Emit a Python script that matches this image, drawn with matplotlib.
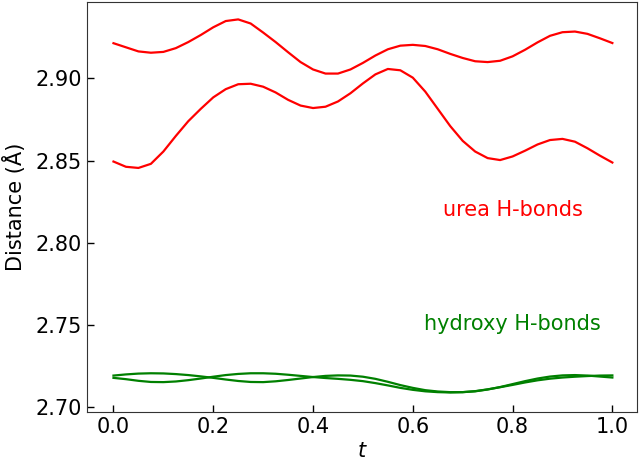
import numpy as np
import matplotlib
matplotlib.use("Agg")
import matplotlib.pyplot as plt

# path coordinate, sampled every 0.025
t = np.arange(41) * 0.025

urea_1 = [2.9215, 2.9190, 2.9165, 2.9157, 2.9162, 2.9185, 2.9222, 2.9265, 2.9312, 2.9350,
          2.9360, 2.9335, 2.9280, 2.9222, 2.9160, 2.9100, 2.9055, 2.9030, 2.9030, 2.9055,
          2.9095, 2.9140, 2.9178, 2.9200, 2.9205, 2.9198, 2.9178, 2.9150, 2.9125, 2.9105,
          2.9100, 2.9108, 2.9135, 2.9175, 2.9220, 2.9260, 2.9282, 2.9286, 2.9272, 2.9245,
          2.9216]
urea_2 = [2.8494, 2.8462, 2.8455, 2.8480, 2.8555, 2.8650, 2.8740, 2.8815, 2.8885, 2.8935,
          2.8965, 2.8968, 2.8950, 2.8915, 2.8870, 2.8835, 2.8820, 2.8828, 2.8860, 2.8910,
          2.8970, 2.9025, 2.9058, 2.9050, 2.9005, 2.8920, 2.8815, 2.8710, 2.8620, 2.8555,
          2.8515, 2.8503, 2.8525, 2.8560, 2.8598, 2.8625, 2.8632, 2.8615, 2.8575, 2.8530,
          2.8488]
hydroxy_1 = [2.7190, 2.7197, 2.7202, 2.7204, 2.7203, 2.7199, 2.7193, 2.7185, 2.7176, 2.7166,
             2.7157, 2.7151, 2.7150, 2.7155, 2.7163, 2.7172, 2.7181, 2.7188, 2.7191, 2.7190,
             2.7183, 2.7170, 2.7152, 2.7132, 2.7115, 2.7101, 2.7093, 2.7089, 2.7089, 2.7094,
             2.7105, 2.7120, 2.7138, 2.7156, 2.7172, 2.7184, 2.7191, 2.7193, 2.7190, 2.7184,
             2.7178]
hydroxy_2 = [2.7176, 2.7168, 2.7158, 2.7151, 2.7150, 2.7154, 2.7162, 2.7172, 2.7183, 2.7193,
             2.7200, 2.7204, 2.7204, 2.7201, 2.7195, 2.7188, 2.7181, 2.7175, 2.7170, 2.7164,
             2.7156, 2.7144, 2.7130, 2.7115, 2.7103, 2.7094, 2.7089, 2.7087, 2.7089, 2.7095,
             2.7106, 2.7119, 2.7133, 2.7148, 2.7161, 2.7171, 2.7178, 2.7183, 2.7187, 2.7190,
             2.7191]

fig = plt.figure(figsize=(6.4, 4.61), dpi=100)
ax = fig.add_axes([0.136, 0.107, 0.859, 0.889])

for y in (urea_1, urea_2):
    ax.plot(t, y, color="red", lw=1.6, solid_joinstyle="round")
for y in (hydroxy_1, hydroxy_2):
    ax.plot(t, y, color="green", lw=1.6, solid_joinstyle="round")

ax.text(0.8, 2.82, "urea H-bonds", color="red", fontsize=15, ha="center", va="center")
ax.text(0.8, 2.7505, "hydroxy H-bonds", color="green", fontsize=15, ha="center", va="center")

ax.set_xlim(-0.053, 1.049)
ax.set_ylim(2.697, 2.9467)
ax.set_xticks([0.0, 0.2, 0.4, 0.6, 0.8, 1.0])
ax.set_yticks([2.70, 2.75, 2.80, 2.85, 2.90])
ax.yaxis.set_major_formatter(matplotlib.ticker.FormatStrFormatter("%.2f"))
ax.tick_params(direction="in", labelsize=15, length=5, width=1)
ax.set_xlabel("$t$", fontsize=15, labelpad=3)
ax.set_ylabel("Distance (Å)", fontsize=15, labelpad=7)
for s in ax.spines.values():
    s.set_color("#333333")

fig.savefig("out.png", dpi=100)
